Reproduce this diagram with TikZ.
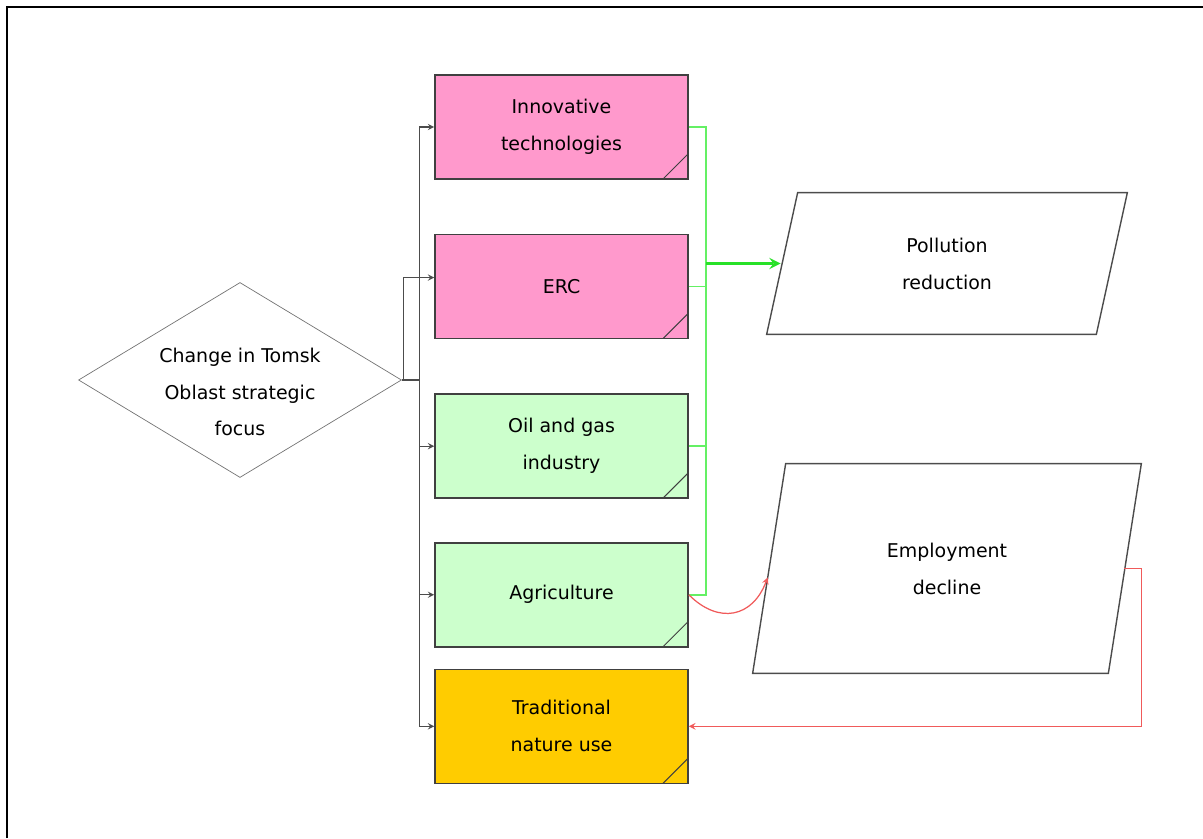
\documentclass[tikz,border=0pt]{standalone}
\usepackage{fontspec}
\setmainfont{DejaVu Sans}
\usetikzlibrary{positioning,shapes.geometric}

\definecolor{boxpink}{RGB}{255,153,204}
\definecolor{boxgreen}{RGB}{204,255,204}
\definecolor{boxgold}{RGB}{255,204,0}
\definecolor{linegreen}{RGB}{100,240,100}
\definecolor{arrowgreen}{RGB}{40,225,40}
\definecolor{linered}{RGB}{240,90,90}

\begin{document}
\begin{tikzpicture}[node distance=1.08cm, >=stealth,
  block/.style={rectangle, draw=black!75, line width=0.9pt, minimum width=5.06cm, minimum height=2.08cm, align=center, inner sep=0pt,
    path picture={\draw[black!75, line width=0.6pt] ([xshift=-0.5cm]path picture bounding box.south east) -- ([yshift=0.5cm]path picture bounding box.south east);}},
  result/.style={rectangle, align=center, inner sep=0pt},
  skewline/.style={draw=black!70, line width=0.8pt},
  feed/.style={->, black!70, line width=0.6pt},
  gfeed/.style={linegreen, line width=0.9pt},
  rfeed/.style={->, linered, line width=0.7pt},
  font=\fontsize{10.8}{21}\selectfont]

  \useasboundingbox (0,0) rectangle (24.06,16.76);
  % Frame
  \draw[line width=1.2pt] (0.14,0) -- (0.14,16.62) -- (24.06,16.62);

  % Nodes
  \node[diamond, draw=black!55, shape aspect=1.66, minimum width=6.46cm, minimum height=3.9cm, inner sep=0pt] (focus) at (4.80,9.16) {};
  \node[align=center] (focustext) at ([yshift=-0.24cm]focus.center) {Change in Tomsk\\Oblast strategic\\focus};

  \node[block, fill=boxpink] (innov) at (11.23,14.22) {Innovative\\technologies};
  \node[block, fill=boxpink] (erc) [below=of innov] {ERC};
  \node[block, fill=boxgreen] (oil) [below=of erc] {Oil and gas\\industry};
  \node[block, fill=boxgreen] (agri) [below=0.86cm of oil] {Agriculture};
  \node[block, fill=boxgold, minimum height=2.28cm] (trad) [below=0.42cm of agri] {Traditional\\nature use};

  \node[result, minimum width=7.2cm, minimum height=2.82cm] (poll) at (18.94,11.49) {Pollution\\reduction};
  \draw[skewline] (poll.south west) -- ([xshift=0.62cm]poll.north west) -- (poll.north east) -- ([xshift=-0.62cm]poll.south east) -- cycle;
  \node[result, minimum width=7.76cm, minimum height=4.18cm] (emp) at (18.94,5.39) {Employment\\decline};
  \draw[skewline] (emp.south west) -- ([xshift=0.66cm]emp.north west) -- (emp.north east) -- ([xshift=-0.66cm]emp.south east) -- cycle;

  % Paths / Edges
  \draw[feed] (focus.east) -- ++(0.36,0) |- (innov.west);
  \draw[feed] (focus.east) -- ++(0.04,0) |- ([yshift=0.18cm]erc.west);
  \draw[feed] (focus.east) -- ++(0.36,0) |- (oil.west);
  \draw[feed] (focus.east) -- ++(0.36,0) |- (agri.west);
  \draw[feed] (focus.east) -- ++(0.36,0) |- (trad.west);

  \path ([xshift=0.34cm]innov.east) coordinate (gx);
  \coordinate (gbus) at (gx |- poll.west);
  \draw[gfeed] (innov.east) -| (gbus);
  \draw[gfeed] (erc.east) -| (gbus);
  \draw[gfeed] (oil.east) -| (gbus);
  \draw[gfeed] (agri.east) -| (gbus);
  \draw[->, arrowgreen, line width=1.8pt] (gbus) -- ([xshift=0.28cm]poll.west);

  \draw[rfeed] (agri.east) .. controls +(0.6,-0.6) and +(-0.3,-0.8) .. ([xshift=0.3cm, yshift=-0.18cm]emp.west);
  \draw[rfeed] ([xshift=-0.34cm]emp.east) -- ++(0.34,0) |- (trad.east);

\end{tikzpicture}
\end{document}
